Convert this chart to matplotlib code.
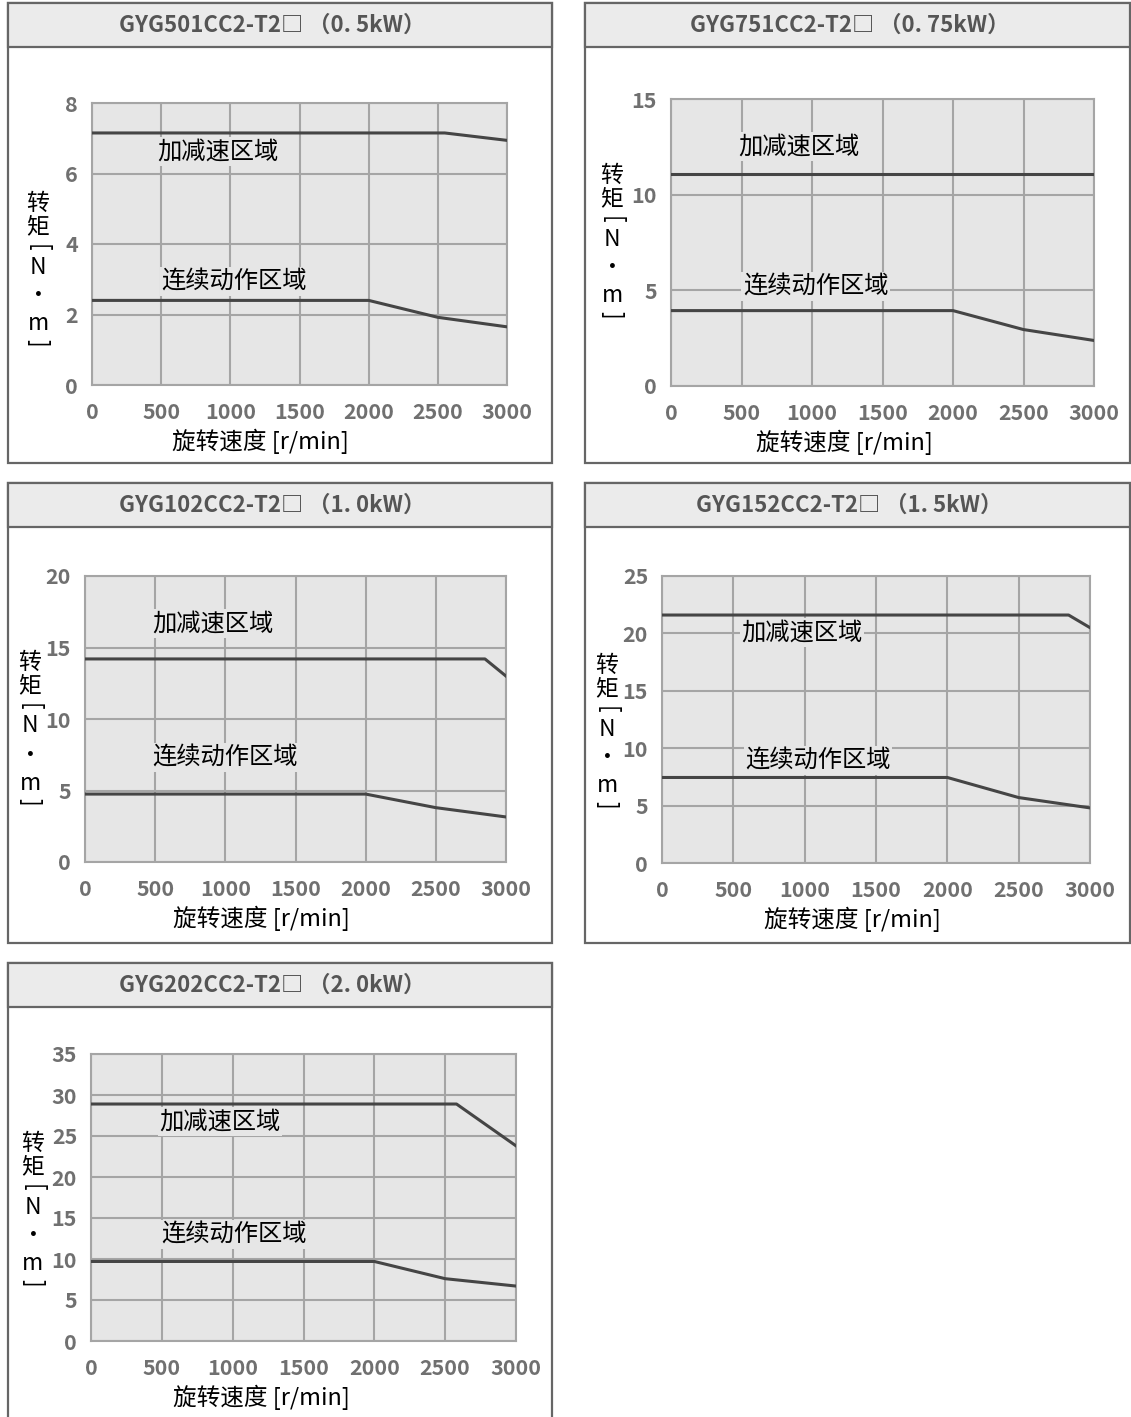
import matplotlib
matplotlib.use("Agg")
import matplotlib.pyplot as plt
from matplotlib.patches import Rectangle
import numpy as np

# ---- data ----
titles = ["GYG501CC2-T2□ （0. 5kW）", "GYG751CC2-T2□ （0. 75kW）",
          "GYG102CC2-T2□ （1. 0kW）", "GYG152CC2-T2□ （1. 5kW）",
          "GYG202CC2-T2□ （2. 0kW）"]
speed_ticks = [0, 500, 1000, 1500, 2000, 2500, 3000]
y_max = [8, 15, 20, 25, 35]
y_step = [2, 5, 5, 5, 5]

accel_rpm_05 = [0, 2550, 3000]
accel_nm_05 = [7.15, 7.15, 6.94]
cont_rpm_05 = [0, 2000, 2500, 3000]
cont_nm_05 = [2.4, 2.4, 1.92, 1.65]

accel_rpm_075 = [0, 3000]
accel_nm_075 = [11.08, 11.08]
cont_rpm_075 = [0, 2000, 2500, 3000]
cont_nm_075 = [3.94, 3.94, 2.95, 2.38]

accel_rpm_10 = [0, 2850, 3000]
accel_nm_10 = [14.2, 14.2, 13.0]
cont_rpm_10 = [0, 2000, 2500, 3000]
cont_nm_10 = [4.75, 4.75, 3.8, 3.15]

accel_rpm_15 = [0, 2850, 3000]
accel_nm_15 = [21.6, 21.6, 20.5]
cont_rpm_15 = [0, 2000, 2500, 3000]
cont_nm_15 = [7.45, 7.45, 5.7, 4.8]

accel_rpm_20 = [0, 2580, 3000]
accel_nm_20 = [28.9, 28.9, 23.8]
cont_rpm_20 = [0, 2000, 2500, 3000]
cont_nm_20 = [9.7, 9.7, 7.6, 6.7]

accel = [(accel_rpm_05, accel_nm_05), (accel_rpm_075, accel_nm_075),
         (accel_rpm_10, accel_nm_10), (accel_rpm_15, accel_nm_15),
         (accel_rpm_20, accel_nm_20)]
cont = [(cont_rpm_05, cont_nm_05), (cont_rpm_075, cont_nm_075),
        (cont_rpm_10, cont_nm_10), (cont_rpm_15, cont_nm_15),
        (cont_rpm_20, cont_nm_20)]

accel_label = "加减速区域"
cont_label = "连续动作区域"
x_label = "旋转速度 [r/min]"
# vertical y label: char, rotation
y_chars = [("转", 0), ("矩", 0), ("[", -90), ("N", 0), ("·", 0), ("m", 0), ("]", -90)]

# ---- layout in pixels ----
W, H = 1131, 1417
boxes = [(8, 3, 552, 463), (585, 3, 1130, 463), (8, 483, 552, 943),
         (585, 483, 1130, 943), (8, 963, 552, 1440)]
axes_px = [(92, 103, 507, 385), (671, 99, 1094, 386), (85, 576, 506, 862),
           (662, 576, 1090, 863), (91, 1054, 516, 1341)]
ylab_pos = [(38, 203), (612, 175), (30, 662), (607, 665), (33, 1143)]
xlab_frac = [0.405, 0.41, 0.42, 0.445, 0.40]
accel_txt = [(470, 6.63), (480, 12.53), (480, 16.7), (556, 20.1), (480, 26.8)]
cont_txt = [(500, 2.94), (510, 5.2), (480, 7.3), (585, 8.96), (495, 12.94)]
y_offsets = [0, 24, 45, 64, 93, 121, 140]
header_h = 44

CJK = ['Noto Sans CJK SC', 'DejaVu Sans']
TITLE = ['Noto Sans CJK SC', 'DejaVu Sans']

bg = '#e6e6e6'
gridc = '#a5a5a5'
linec = '#454545'


def fx(x):
    return x / W


def fy(y):
    return 1 - y / H


fig = plt.figure(figsize=(W / 100, H / 100), dpi=100)

for i in range(5):
    bx0, by0, bx1, by1 = boxes[i]
    # outer box
    fig.patches.append(Rectangle((fx(bx0), fy(by1)), fx(bx1 - bx0), (by1 - by0) / H,
                                 transform=fig.transFigure, facecolor='white',
                                 edgecolor='#666666', lw=1.6, zorder=-2))
    # header band
    fig.patches.append(Rectangle((fx(bx0), fy(by0 + header_h)), fx(bx1 - bx0), header_h / H,
                                 transform=fig.transFigure, facecolor='#ebebeb',
                                 edgecolor='#666666', lw=1.6, zorder=-1))
    fig.text(fx((bx0 + bx1) / 2 - 8), fy(by0 + header_h / 2), titles[i],
             ha='center', va='center', fontsize=16, color='#555555',
             family=TITLE, fontweight='bold')

    ax0, ay0, ax1, ay1 = axes_px[i]
    ax = fig.add_axes([fx(ax0), fy(ay1), fx(ax1 - ax0), (ay1 - ay0) / H])
    ax.set_facecolor(bg)
    ax.set_xlim(0, 3000)
    ax.set_ylim(0, y_max[i])
    ax.set_xticks(speed_ticks)
    ax.set_yticks(np.arange(0, y_max[i] + 1, y_step[i]))
    ax.grid(True, color=gridc, lw=1.5, zorder=1)
    ax.set_axisbelow(True)
    for s in ax.spines.values():
        s.set_color(gridc)
        s.set_linewidth(1.5)
    ax.tick_params(length=0, labelsize=15.5, labelcolor='#707070')
    ax.tick_params(axis='x', pad=12)
    ax.tick_params(axis='y', pad=10)
    for lab in ax.get_xticklabels() + ax.get_yticklabels():
        lab.set_family(CJK)
        lab.set_fontweight('bold')

    ax.plot(accel[i][0], accel[i][1], color=linec, lw=2.2, zorder=3)
    ax.plot(cont[i][0], cont[i][1], color=linec, lw=2.2, zorder=3)

    box = dict(facecolor=bg, edgecolor='none', pad=1)
    ax.text(accel_txt[i][0], accel_txt[i][1], accel_label, ha='left', va='center',
            fontsize=17.5, family=CJK, color='black', bbox=box, zorder=4)
    ax.text(cont_txt[i][0], cont_txt[i][1], cont_label, ha='left', va='center',
            fontsize=17.5, family=CJK, color='black', bbox=box, zorder=4)

    ax.set_xlabel(x_label, fontsize=17, family=CJK, color='black')
    ax.xaxis.set_label_coords(xlab_frac[i], -56 / (ay1 - ay0))
    ax.xaxis.label.set_va('center')

    lx, ly = ylab_pos[i]
    for (ch, rot), off in zip(y_chars, y_offsets):
        fig.text(fx(lx), fy(ly + off), ch, ha='center', va='center', rotation=rot,
                 fontsize=16.5, family=CJK, color='black')

fig.savefig("out.png", dpi=100)
